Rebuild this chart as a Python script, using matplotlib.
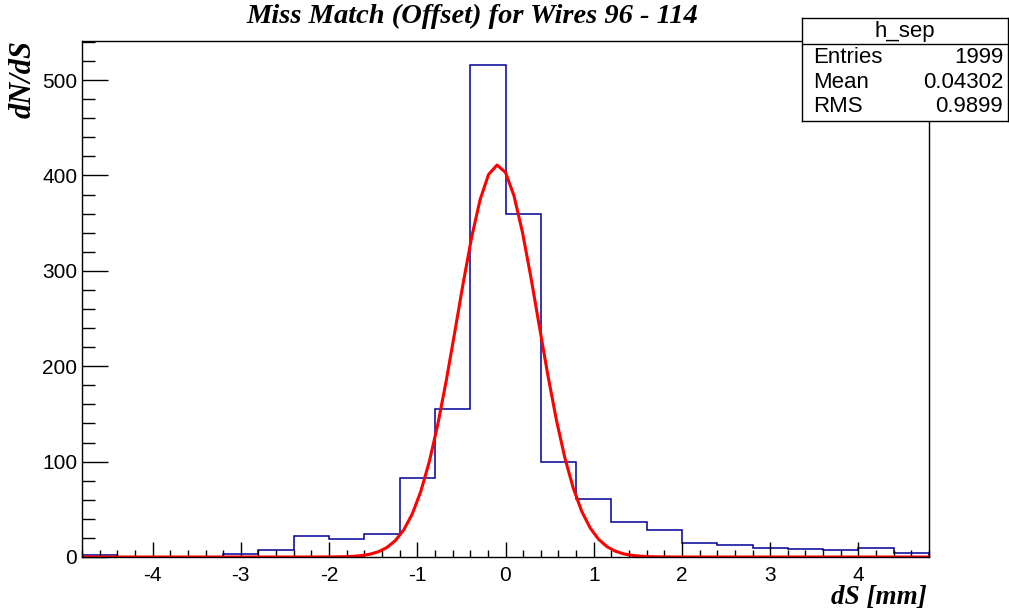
import numpy as np
import matplotlib
matplotlib.use("Agg")
import matplotlib.pyplot as plt
from matplotlib.ticker import MultipleLocator

plt.rcParams["axes.unicode_minus"] = False

# histogram h_sep, 24 bins of 0.4 mm from -4.8 to 4.8
bin_edges = np.arange(-4.8, 4.81, 0.4)
counts = [2, 0, 0, 0, 3, 7, 22, 19, 24, 83, 155, 516,
          360, 100, 61, 37, 28, 15, 13, 9, 8, 7, 9, 4]

# gaussian fit parameters
fit_const = 411.0
fit_mean = -0.09
fit_sigma = 0.46

stat_names = ["Entries", "Mean", "RMS"]
stat_values = ["1999", "0.04302", "0.9899"]

W, H = 1009, 613
fig = plt.figure(figsize=(W / 100, H / 100), dpi=100)
ax = fig.add_axes([82 / W, (H - 557) / H, (929 - 82) / W, (557 - 41) / H])

ax.stairs(counts, bin_edges, color="#000099", lw=1.1)

# ROOT draws the fit function with 100 points over the axis range
xf = np.linspace(-4.8, 4.8, 101)
yf = fit_const * np.exp(-0.5 * ((xf - fit_mean) / fit_sigma) ** 2)
ax.plot(xf, yf, color="#ff0000", lw=2.2)

ax.set_xlim(-4.8, 4.8)
ax.set_ylim(0, 541)
ax.xaxis.set_major_locator(MultipleLocator(1))
ax.xaxis.set_minor_locator(MultipleLocator(0.2))
ax.yaxis.set_major_locator(MultipleLocator(100))
ax.yaxis.set_minor_locator(MultipleLocator(20))
ax.tick_params(axis="both", which="both", direction="in", top=False, right=False)
ax.tick_params(axis="x", which="major", length=10.8, width=1, pad=6.5)
ax.tick_params(axis="x", which="minor", length=5.4, width=1)
ax.tick_params(axis="y", which="major", length=18.7, width=1, pad=3.4)
ax.tick_params(axis="y", which="minor", length=9.3, width=1)
for lab in ax.get_xticklabels() + ax.get_yticklabels():
    lab.set_fontfamily("Liberation Sans")
    lab.set_fontsize(15)
for sp in ax.spines.values():
    sp.set_linewidth(1)

serif = dict(family="Liberation Serif", weight="bold", style="italic")
fig.text(472 / W, 1 - 23 / H, "Miss Match (Offset) for Wires 96 - 114",
         ha="center", va="baseline", fontsize=20.5, **serif)
fig.text(927 / W, 1 - 604 / H, "dS [mm]", ha="right", va="baseline",
         fontsize=19.5, **serif)
fig.text(9 / W, 1 - 40 / H, "dN/dS", ha="left", va="top", rotation=90,
         fontsize=22, **serif)

# stats box
sb = fig.add_axes([802 / W, (H - 121) / H, (1008 - 802) / W, (121 - 18) / H])
sb.set_xlim(0, 1)
sb.set_ylim(0, 1)
sb.set_xticks([])
sb.set_yticks([])
sb.set_facecolor("white")
for sp in sb.spines.values():
    sp.set_linewidth(1)
sb.axhline(0.745, color="black", lw=1)
sans = dict(family="Liberation Sans", fontsize=16)
sb.text(0.5, 0.872, "h_sep", ha="center", va="center", **sans)
for i, (name, val) in enumerate(zip(stat_names, stat_values)):
    yy = 0.612 - i * 0.238
    sb.text(0.052, yy, name, ha="left", va="center", **sans)
    sb.text(0.976, yy, val, ha="right", va="center", **sans)

fig.savefig("out.png", dpi=100)
